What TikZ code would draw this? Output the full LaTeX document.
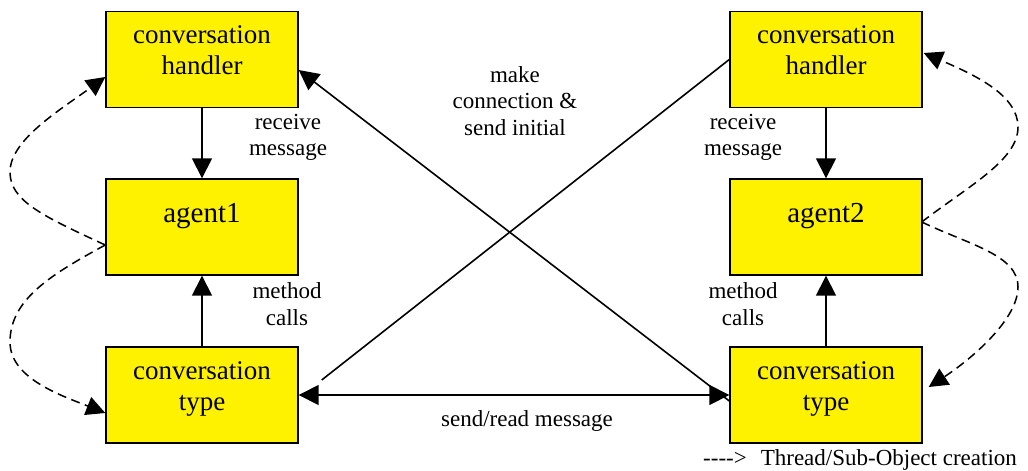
\documentclass[tikz,border=0pt]{standalone}
\usepackage{fontspec}
\setmainfont{Liberation Serif}
\usetikzlibrary{arrows.meta,calc}
\begin{document}
\begin{tikzpicture}[x=1pt,y=-1pt,
  box/.style={draw=black, fill=yellow, line width=1.4pt, minimum width=192pt, minimum height=96pt,
    inner sep=0pt, align=center, font=\fontsize{27}{31}\selectfont,
    execute at begin node={\rule{0pt}{20pt}}, execute at end node={\rule[-18pt]{0pt}{18pt}}},
  agentbox/.style={draw=black, fill=yellow, line width=1.4pt, minimum width=192pt, minimum height=96pt,
    inner sep=0pt, font=\fontsize{29}{33}\selectfont, text height=20pt, text depth=30pt},
  lbl/.style={inner sep=0pt, align=center, font=\fontsize{23}{26.5}\selectfont,
    execute at begin node={\rule{0pt}{17pt}}, execute at end node={\rule[-6pt]{0pt}{6pt}}},
  lblone/.style={inner sep=0pt, font=\fontsize{23}{26.5}\selectfont},
  solidarrow/.style={line width=1.6pt, -{Triangle[length=20pt,width=20pt]}},
  dblarrow/.style={line width=1.6pt, {Triangle[length=20pt,width=20pt]}-{Triangle[length=20pt,width=20pt]}},
  plainline/.style={line width=1.6pt},
  dasharrow/.style={line width=1.5pt, dash pattern=on 9pt off 5.5pt, -{Triangle[length=19pt,width=19pt]}}
]
\useasboundingbox (0,0) rectangle (1028,471);

\node[box] (h1) at (202,59.5) {conversation\\handler};
\node[agentbox] (a1) at (202,227) {agent1};
\node[box] (t1) at (202,395) {conversation\\type};
\node[box] (h2) at (826,59.5) {conversation\\handler};
\node[agentbox] (a2) at (826,227) {agent2};
\node[box] (t2) at (826,395) {conversation\\type};

\node[lbl] (rm1) at (288,137.9) {receive\\message};
\node[lbl] (rm2) at (743,137.9) {receive\\message};
\node[lbl] (mc1) at (287,306.9) {method\\calls};
\node[lbl] (mc2) at (743,306.9) {method\\calls};
\node[lbl] (mk) at (515,104) {make\\connection \&\\send initial};
\node[lblone, anchor=base] (sr) at (527,426.7) {send/read message};
\node[lblone, anchor=base west] (legend) at (703,465) {-{}-{}-{}-{}>\hspace{14pt}Thread/Sub-Object creation};

\draw[solidarrow] (h1) -- (a1);
\draw[solidarrow] (t1) -- (a1);
\draw[solidarrow] (h2) -- (a2);
\draw[solidarrow] (t2) -- (a2);
\draw[dblarrow] (t1.east) -- (t2.west);
\draw[solidarrow] ($(t2.west)+(0,6)$) -- ($(h1.east)+(0,10.5)$);
\draw[plainline] ($(t1.east)+(23,-15)$) -- (h2.west);

\draw[dasharrow] ($(a1.west)+(0,18)$) .. controls (40,215) and (10,200) .. (10,172)
  .. controls (10,140) and (60,110) .. ($(h1.west)+(0,17.5)$);
\draw[dasharrow] ($(a1.west)+(0,18)$) .. controls (50,275) and (10,300) .. (10,342)
  .. controls (10,378) and (60,395) .. ($(t1.west)+(0,18)$);
\draw[dasharrow] ($(a2.east)+(-1,-5)$) .. controls (970,185) and (1018,160) .. (1018,127)
  .. controls (1018,95) and (975,75) .. ($(h2.east)+(1,-6.5)$);
\draw[dasharrow] ($(a2.east)+(-1,-5)$) .. controls (970,245) and (1018,255) .. (1018,287)
  .. controls (1018,320) and (970,360) .. ($(t2.east)+(6,-8)$);
\end{tikzpicture}
\end{document}
